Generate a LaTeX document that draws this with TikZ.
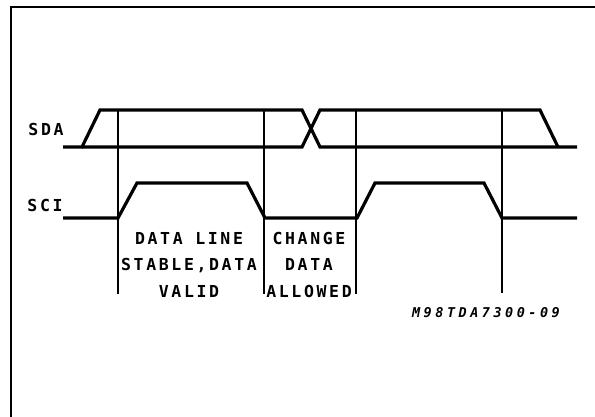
\documentclass[tikz,border=0pt]{standalone}
\usepackage{fontspec}
\newfontfamily\timingfont[LetterSpace=16]{DejaVu Sans Mono}
\newfontfamily\tagfont[LetterSpace=26]{DejaVu Sans Mono}
\usepackage{tikz}
\usetikzlibrary{positioning}

\tikzset{
  wave/.style={line width=3.2pt, line join=miter},
  marker/.style={line width=2.3pt},
  lbl/.style={font=\timingfont\bfseries\fontsize{16.5}{16.5}\selectfont,
    inner sep=0pt, text height=12pt, text depth=0pt},
  tag/.style={font=\tagfont\bfseries\itshape\fontsize{13.5}{13.5}\selectfont,
    inner sep=0pt, text height=10pt, text depth=0pt}
}

\begin{document}
\begin{tikzpicture}[x=1pt, y=-1pt]
  \useasboundingbox (0,0) rectangle (595,417);

  % open frame
  \draw[line width=2.2pt] (11,417) -- (11,7) -- (595,7);

  % SDA
  \draw[wave] (63,147) -- (82,147) -- (100,110) -- (302,110) -- (320,147) -- (577,147);
  \draw[wave] (82,147) -- (302,147) -- (320,110) -- (540,110) -- (558,147);

  % SCI
  \draw[wave] (63,218) -- (118,218) -- (137,183) -- (247,183) -- (265,218)
    -- (357,218) -- (375,183) -- (484,183) -- (502,218) -- (577,218);

  % timing markers
  \foreach \xm/\yb in {118/294, 264/294, 356/294, 502/293}
    \draw[marker] (\xm,110) -- (\xm,\yb);

  % signal names
  \node[lbl] (sda) at (46,130) {SDA};
  \node[lbl] (sci) at (45,206) {SCI};

  % phases
  \node[lbl] (stable1) at (189,238) {DATA LINE};
  \node[lbl] (stable2) at (189,264) {STABLE,DATA};
  \node[lbl] (stable3) at (189,291) {VALID};
  \node[lbl] (change1) at (309,238) {CHANGE};
  \node[lbl] (change2) at (309,264) {DATA};
  \node[lbl] (change3) at (309,291) {ALLOWED};

  \node[tag] (code) at (486,312) {M98TDA7300-09};
\end{tikzpicture}
\end{document}
